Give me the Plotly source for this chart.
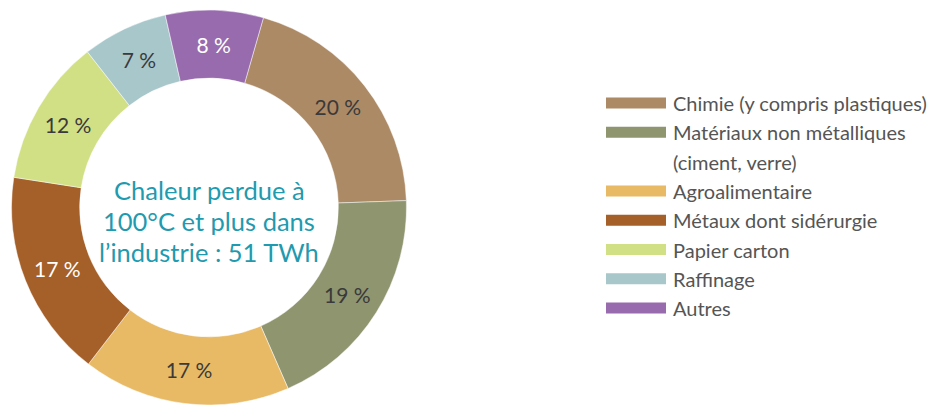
import plotly.graph_objects as go

# Share of waste heat (100 °C and above) by industrial sector
sectors = [
    "Chimie (y compris plastiques)",
    "Matériaux non métalliques\n(ciment, verre)",
    "Agroalimentaire",
    "Métaux dont sidérurgie",
    "Papier carton",
    "Raffinage",
    "Autres",
]
shares = [20, 19, 17, 17, 12, 7, 8]
colors = ["#AC8A66", "#8F956F", "#E8BA66", "#A55F28", "#D1DF85", "#A8C7CB", "#976BAD"]
label_colors = ["#3A3A3A", "#3A3A3A", "#3A3A3A", "#FFFFFF", "#3A3A3A", "#3A3A3A", "#FFFFFF"]
center_title = ["Chaleur perdue à", "100°C et plus dans", "l’industrie : 51 TWh"]

W, H = 930, 405
FONT = "Lato, 'Open Sans', sans-serif"


def px(x):
    return x / W


def py(y):
    return 1 - y / H


fig = go.Figure()
fig.add_trace(go.Pie(
    labels=[s.replace("\n", " ") for s in sectors],
    values=shares,
    sort=False,
    direction="clockwise",
    rotation=16,
    hole=0.655,
    marker=dict(colors=colors, line=dict(color="rgba(255,255,255,0.6)", width=0.8)),
    texttemplate="%{value} %",
    textposition="inside",
    insidetextorientation="horizontal",
    textfont=dict(family=FONT, size=21, color=label_colors),
    domain=dict(x=[px(10), px(408)], y=[0, py(10)]),
    showlegend=False,
    hoverinfo="label+value",
))

# Centre caption, one line per annotation for tight line spacing
annotations = []
for i, line in enumerate(center_title):
    annotations.append(dict(
        text=line, x=px(209), y=py(190 + i * 31), xref="paper", yref="paper",
        showarrow=False, xanchor="center", yanchor="middle",
        font=dict(family=FONT, size=25.5, color="#1F9AAF"),
    ))

# Hand-built legend: wide colour swatches, one text row per line of label
shapes = []
row_h = 29.3
top = 103
row = 0
for name, col in zip(sectors, colors):
    yc = top + row * row_h
    shapes.append(dict(type="rect", xref="paper", yref="paper",
                       x0=px(606), x1=px(666), y0=py(yc - 5.5), y1=py(yc + 5.5),
                       fillcolor=col, line=dict(width=0)))
    for line in name.split("\n"):
        yl = top + row * row_h
        annotations.append(dict(
            text=line, x=px(671), y=py(yl), xref="paper", yref="paper",
            showarrow=False, xanchor="left", yanchor="middle",
            font=dict(family=FONT, size=20, color="#555555"),
        ))
        row += 1

fig.update_layout(
    width=W, height=H,
    margin=dict(l=0, r=0, t=0, b=0),
    paper_bgcolor="white", plot_bgcolor="white",
    shapes=shapes, annotations=annotations,
)

fig.write_html("out.html")
